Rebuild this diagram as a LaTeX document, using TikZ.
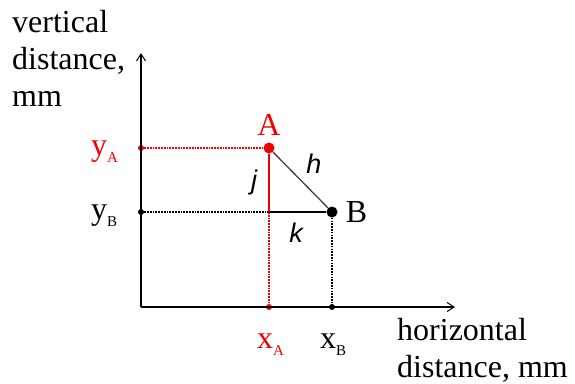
\documentclass[tikz,border=0pt]{standalone}
\usepackage{fontspec}
\usepackage{xcolor}
\usepackage{tikz}
\usetikzlibrary{positioning,arrows.meta}
\setmainfont{Liberation Serif}
\newfontfamily\labelsans{Liberation Sans}
\definecolor{ptred}{RGB}{240,0,0}
\newcommand{\subl}[1]{\raisebox{-7pt}{\fontsize{15}{15}\selectfont #1}}

\begin{document}
\begin{tikzpicture}[x=1pt, y=-1pt,
  axis/.style={line width=1.4pt, -{Straight Barb[length=7pt,width=9pt,line width=1pt]}},
  guide/.style={line width=2.2pt, dash pattern=on 1.7pt off 1.1pt},
  tick/.style={circle, fill, inner sep=0pt, minimum size=6pt},
  point/.style={circle, fill, inner sep=0pt, minimum size=11pt},
  txt/.style={inner sep=0pt, font=\fontsize{32}{37}\selectfont},
  side/.style={inner sep=0pt, font=\labelsans\itshape\fontsize{27}{27}\selectfont}]
\useasboundingbox (0,0) rectangle (575,383);
% Nodes
\coordinate (origin) at (141,307);
\coordinate (ytop) at (141,53);
\coordinate (xend) at (455,307);
\node[point, ptred] (A) at (269,148) {};
\node[point, black] (B) at (332,212) {};
\coordinate (C) at (269,212);
\node[tick, ptred] (yAtick) at (141,148) {};
\node[tick, black] (yBtick) at (141,212) {};
\node[tick, ptred] (xAtick) at (269,307) {};
\node[tick, black] (xBtick) at (332,307) {};

% Labels
\node[txt, anchor=base west] (vlab1) at (12,32) {vertical};
\node[txt, anchor=base west] (vlab2) at (12,69) {distance,};
\node[txt, anchor=base west] (vlab3) at (12,106) {mm};
\node[txt, anchor=base west] (hlab1) at (397,340) {horizontal};
\node[txt, anchor=base west] (hlab2) at (397,377) {distance, mm};
\node[txt, ptred, above=7pt of A] (Alab) {A};
\node[txt, right=8pt of B] (Blab) {B};
\node[txt, ptred, anchor=base west] (yAlab) at (91,155) {y\subl{A}};
\node[txt, anchor=base west] (yBlab) at (91,219) {y\subl{B}};
\node[txt, ptred, anchor=base west] (xAlab) at (257,348) {x\subl{A}};
\node[txt, anchor=base west] (xBlab) at (320,348) {x\subl{B}};
\node[side] (hlab) at (314,164) {h};
\node[side] (jlab) at (254,183) {j};
\node[side] (klab) at (296,233) {k};

% Arrows
\draw[axis] (origin) -- (ytop);
\draw[axis] (origin) -- (xend);
\draw[guide, ptred] (yAtick) -- (A);
\draw[guide, ptred] (C) -- (xAtick);
\draw[guide] (yBtick) -- (C);
\draw[guide] (B) -- (xBtick);
\draw[line width=1.6pt, ptred] (A) -- (C);
\draw[line width=1.6pt] (C) -- (B);
\draw[line width=1.3pt, black!75] (A) -- (B);
\end{tikzpicture}
\end{document}
